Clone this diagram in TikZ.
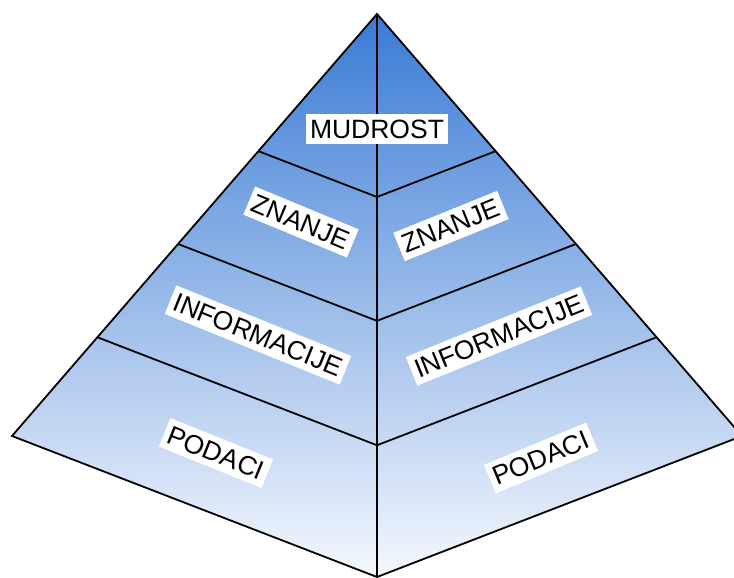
\documentclass[tikz,border=0pt]{standalone}
\definecolor{PeakBlue}{RGB}{58, 123, 213}
\definecolor{BaseBlue}{RGB}{245, 248, 253}
\usepackage{fontspec}
\setmainfont{Liberation Sans}
\usetikzlibrary{calc}

\begin{document}
\begin{tikzpicture}[x=1pt, y=-1pt,
        edge/.style={line width=1.8pt, line join=miter},
        tag/.style={fill=white, inner xsep=4.5pt, inner ysep=6pt, font=\fontsize{26.5}{30}\selectfont}
    ]
        \useasboundingbox (0,0) rectangle (734,578);
        \coordinate (apex) at (377,14);
        \coordinate (left) at (12,436);
        \coordinate (front) at (377,577);
        \coordinate (right) at (742,436);

        \shade[top color=PeakBlue, bottom color=BaseBlue] (apex) -- (left) -- (front) -- (right) -- cycle;

        % layer borders
        \foreach \t in {0.325, 0.545, 0.766}
            \draw[edge] ($(apex)!\t!(left)$) -- ($(apex)!\t!(front)$) -- ($(apex)!\t!(right)$);

        \draw[edge] (apex) -- (left) -- (front) -- (right) -- cycle;
        \draw[edge] (apex) -- (front);

        \node[tag] (mudrost) at (377,129) {MUDROST};
        \node[tag, rotate=-22.5] (znanjeL) at (301,222) {ZNANJE};
        \node[tag, rotate=22] (znanjeR) at (451,226) {ZNANJE};
        \node[tag, rotate=-22] (infoL) at (258,335) {INFORMACIJE};
        \node[tag, rotate=22] (infoR) at (499,336) {INFORMACIJE};
        \node[tag, rotate=-22] (podaciL) at (216,453) {PODACI};
        \node[tag, rotate=22.5] (podaciR) at (541,458) {PODACI};
    \end{tikzpicture}
\end{document}
